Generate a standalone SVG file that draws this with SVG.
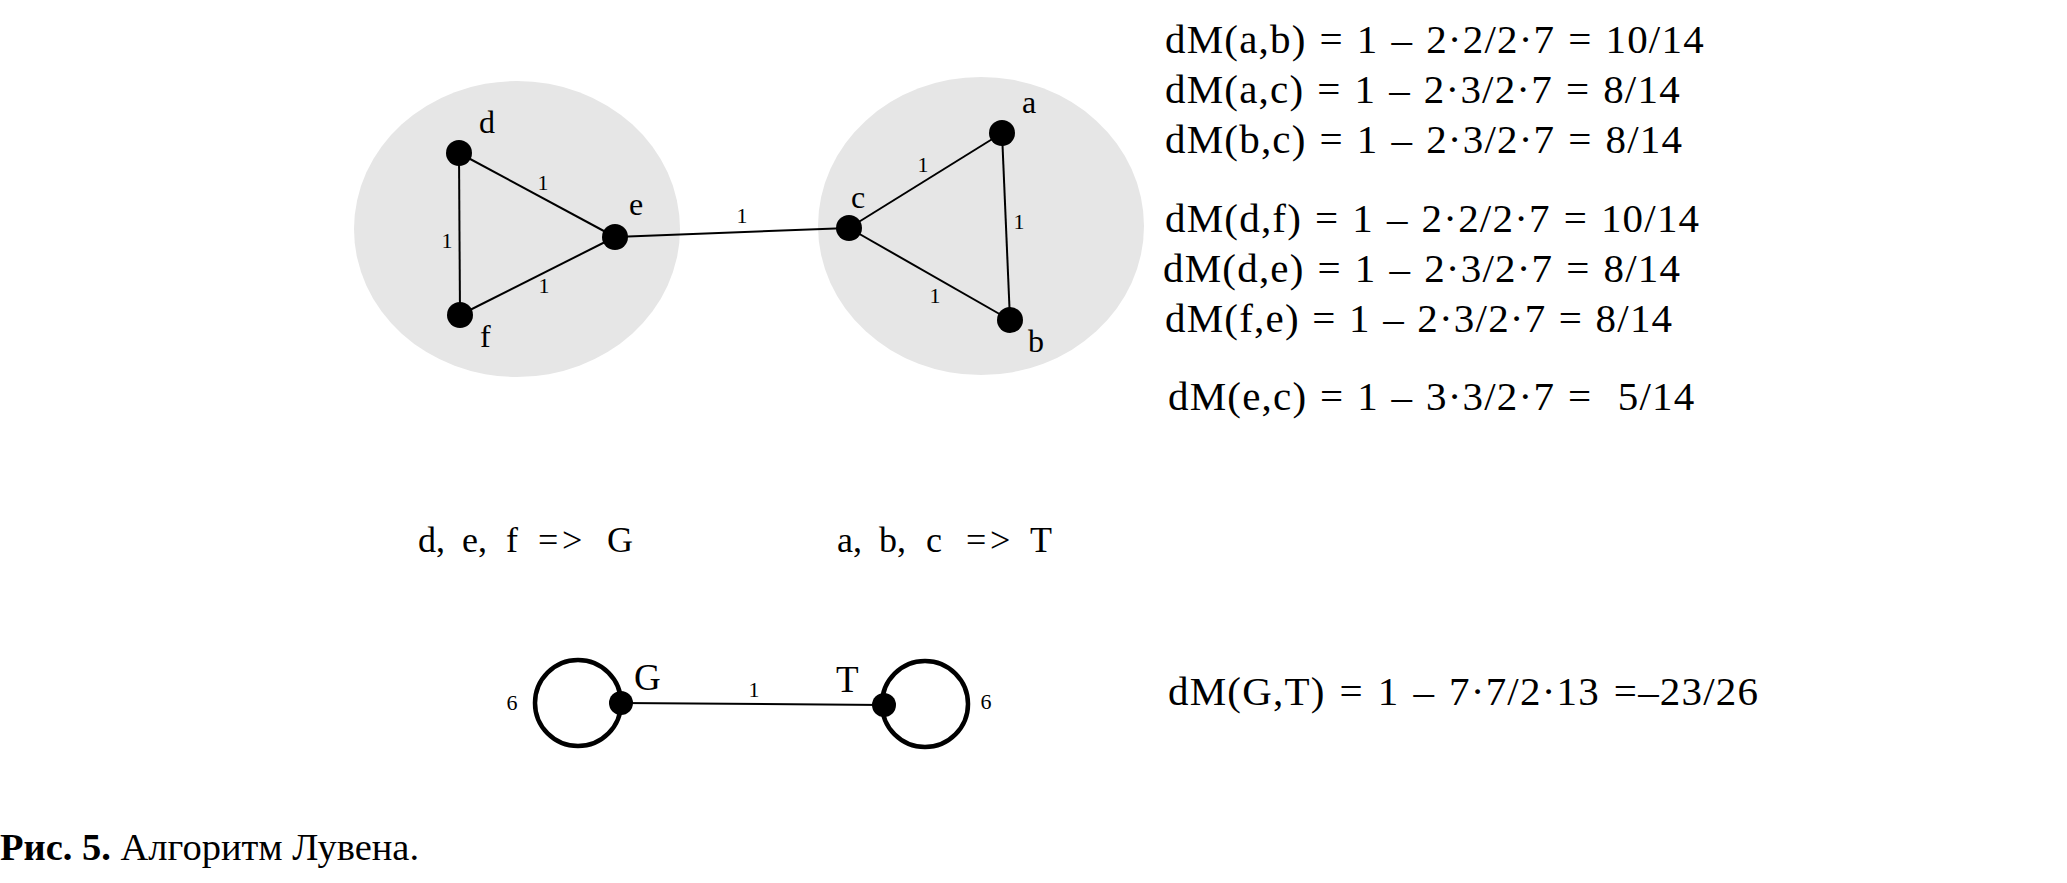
<svg xmlns="http://www.w3.org/2000/svg" width="2067" height="883" viewBox="0 0 2067 883">
<style>
  .bg { fill: #ffffff; }
  .cluster { fill: #e6e6e6; }
  .edge { stroke: #000; stroke-width: 2; fill: none; }
  .loop { stroke: #000; stroke-width: 4.5; fill: none; }
  .node { fill: #000; }
  .lbl { font-family: "Liberation Serif", "DejaVu Serif", serif; font-size: 32px; fill: #000; }
  .big { font-family: "Liberation Serif", "DejaVu Serif", serif; font-size: 37px; fill: #000; }
  .w { font-family: "Liberation Serif", "DejaVu Serif", serif; font-size: 22px; fill: #000; }
  .math { font-family: "Liberation Serif", "DejaVu Serif", serif; font-size: 41px; fill: #000; letter-spacing: 1.2px; word-spacing: 1.5px; }
  .merge { font-family: "Liberation Serif", "DejaVu Serif", serif; font-size: 36px; fill: #000; }
  .cap { font-family: "Liberation Serif", "Times New Roman", serif; font-size: 38.5px; fill: #000; }
</style>
<rect class="bg" x="0" y="0" width="2067" height="883"/>

<g id="clusters">
  <ellipse class="cluster" cx="517" cy="229" rx="163" ry="148"/>
  <ellipse class="cluster" cx="981" cy="226" rx="163" ry="149"/>
</g>

<g id="connectors">
  <line class="edge" x1="459" y1="153" x2="460" y2="315"/>
  <line class="edge" x1="459" y1="153" x2="615" y2="237"/>
  <line class="edge" x1="460" y1="315" x2="615" y2="237"/>
  <line class="edge" x1="615" y1="237" x2="849" y2="228"/>
  <line class="edge" x1="849" y1="228" x2="1002" y2="133"/>
  <line class="edge" x1="849" y1="228" x2="1010" y2="320"/>
  <line class="edge" x1="1002" y1="133" x2="1010" y2="320"/>
  <line class="edge" x1="621" y1="703" x2="884" y2="705"/>
  <circle class="loop" cx="578" cy="703" r="43"/>
  <circle class="loop" cx="925" cy="704" r="43"/>
  <text class="w" x="447" y="248" text-anchor="middle">1</text>
  <text class="w" x="543" y="190" text-anchor="middle">1</text>
  <text class="w" x="544" y="293" text-anchor="middle">1</text>
  <text class="w" x="742" y="223" text-anchor="middle">1</text>
  <text class="w" x="923" y="172" text-anchor="middle">1</text>
  <text class="w" x="1019" y="229" text-anchor="middle">1</text>
  <text class="w" x="935" y="303" text-anchor="middle">1</text>
  <text class="w" x="754" y="697" text-anchor="middle">1</text>
  <text class="w" x="512" y="710" text-anchor="middle">6</text>
  <text class="w" x="986" y="709" text-anchor="middle">6</text>
</g>

<g id="node-d"><circle class="node" cx="459" cy="153" r="13"/><text class="lbl" x="479" y="133">d</text></g>
<g id="node-e"><circle class="node" cx="615" cy="237" r="13"/><text class="lbl" x="629" y="215">e</text></g>
<g id="node-f"><circle class="node" cx="460" cy="315" r="13"/><text class="lbl" x="480" y="347">f</text></g>
<g id="node-c"><circle class="node" cx="849" cy="228" r="13"/><text class="lbl" x="851" y="208">c</text></g>
<g id="node-a"><circle class="node" cx="1002" cy="133" r="13"/><text class="lbl" x="1022" y="113">a</text></g>
<g id="node-b"><circle class="node" cx="1010" cy="320" r="13"/><text class="lbl" x="1028" y="352">b</text></g>
<g id="node-G"><circle class="node" cx="621" cy="703" r="12"/><text class="big" x="634" y="690">G</text></g>
<g id="node-T"><circle class="node" cx="884" cy="705" r="12"/><text class="big" x="836" y="692">T</text></g>

<g id="formulas">
  <text class="math" x="1165" y="53">dM(a,b) = 1 – 2·2/2·7 = 10/14</text>
  <text class="math" x="1165" y="103">dM(a,c) = 1 – 2·3/2·7 = 8/14</text>
  <text class="math" x="1165" y="153">dM(b,c) = 1 – 2·3/2·7 = 8/14</text>
  <text class="math" x="1165" y="232">dM(d,f) = 1 – 2·2/2·7 = 10/14</text>
  <text class="math" x="1163" y="282">dM(d,e) = 1 – 2·3/2·7 = 8/14</text>
  <text class="math" x="1165" y="332" style="word-spacing:1px">dM(f,e) = 1 – 2·3/2·7 = 8/14</text>
  <text class="math" x="1168" y="410" style="word-spacing:1.3px" xml:space="preserve">dM(e,c) = 1 – 3·3/2·7 =  5/14</text>
  <text class="math" x="1168" y="705" style="word-spacing:2.5px">dM(G,T) = 1 – 7·7/2·13 =–23/26</text>
  <text class="merge" y="552"><tspan x="418">d,</tspan> <tspan x="462">e,</tspan> <tspan x="506">f</tspan> <tspan x="538">=</tspan><tspan x="562">&gt;</tspan> <tspan x="607">G</tspan></text>
  <text class="merge" y="552"><tspan x="837">a,</tspan> <tspan x="879">b,</tspan> <tspan x="926">c</tspan> <tspan x="966">=</tspan><tspan x="990">&gt;</tspan> <tspan x="1030">T</tspan></text>
</g>

<text class="cap" x="0" y="860"><tspan font-weight="bold">Рис. 5.</tspan> Алгоритм Лувена.</text>
</svg>
